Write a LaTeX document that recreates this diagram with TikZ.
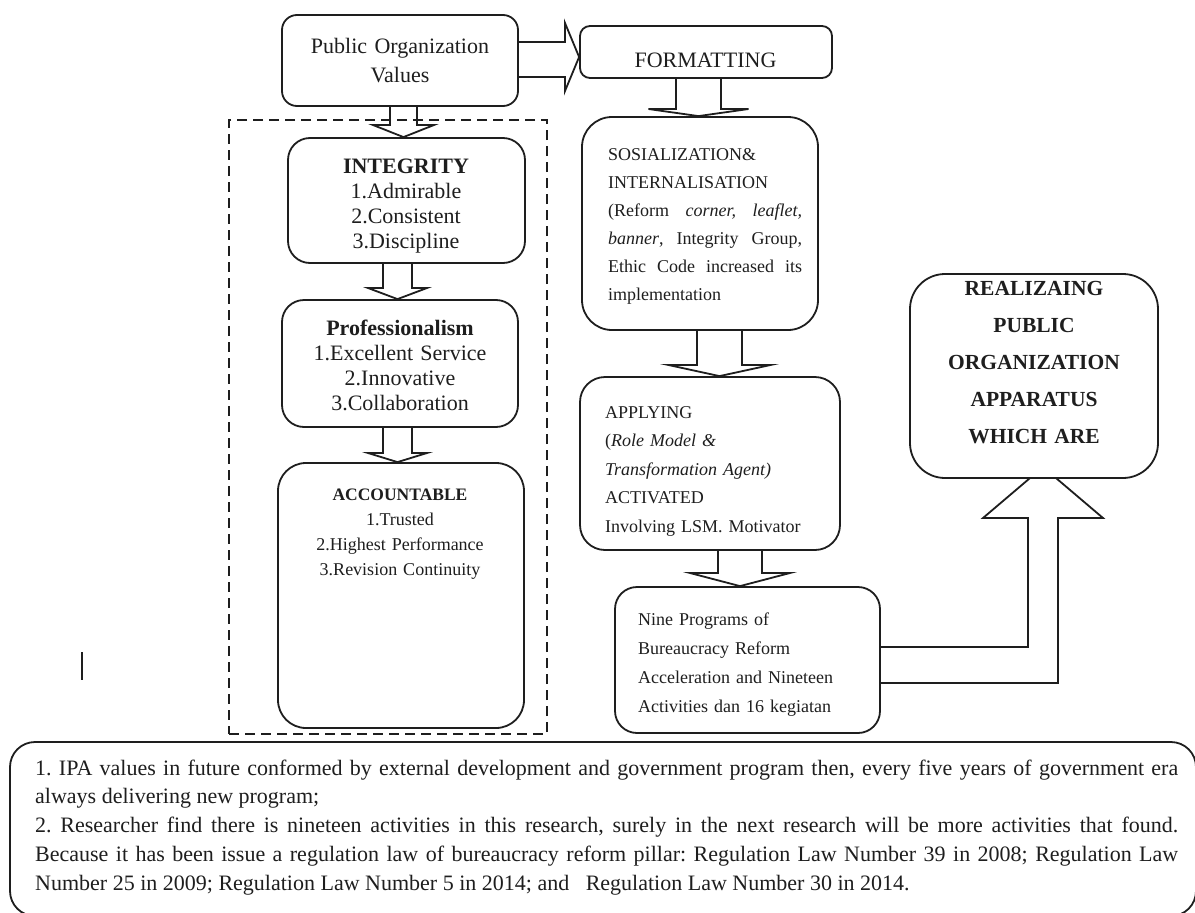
\documentclass[tikz,border=0pt]{standalone}
\usepackage{fontspec}
\setmainfont{Liberation Serif}
\usetikzlibrary{calc}
\frenchspacing
\definecolor{ink}{HTML}{1E1E1E}
\tikzset{
  box/.style={draw=ink, line width=1.8pt, fill=white, inner sep=0pt},
  blockarrow/.style={draw=ink, line width=1.8pt, line join=miter},
  txt/.style={inner sep=0pt, text=ink},
  groupframe/.style={draw=ink, line width=1.8pt, dash pattern=on 10pt off 6pt, inner sep=0pt},
}
\newcommand\fs[2]{\fontsize{#1}{#2}\selectfont}
% vertical block arrow: from node, to node, centre x, shaft half-width, head half-width, head base y
\newcommand\vblock[6]{%
  \draw[blockarrow] (#3-#4,0 |- #1.south) -- (#3-#4,#6) -- (#3-#5,#6) -- (#3,0 |- #2.north)
    -- (#3+#5,#6) -- (#3+#4,#6) -- (#3+#4,0 |- #1.south);}

\begin{document}
\begin{tikzpicture}[x=1pt,y=-1pt]
\useasboundingbox (0,0) rectangle (1195,913);

% dashed frame round the three value boxes
\node[groupframe, minimum width=318, minimum height=614] (group) at (388,427) {};

% boxes
\node[box, rounded corners=15pt, minimum width=236, minimum height=91] (val) at (400,60.5) {};
\node[box, rounded corners=10pt, minimum width=252, minimum height=52] (fmt) at (706,52) {};
\node[box, rounded corners=22pt, minimum width=237, minimum height=125] (integ) at (406.5,200.5) {};
\node[box, rounded corners=22pt, minimum width=236, minimum height=127] (prof) at (400,363.5) {};
\node[box, rounded corners=28pt, minimum width=246, minimum height=265] (acc) at (401,595.5) {};
\node[box, rounded corners=30pt, minimum width=236, minimum height=213] (sos) at (700,223.5) {};
\node[box, rounded corners=25pt, minimum width=260, minimum height=173] (app) at (710,463.5) {};
\node[box, rounded corners=22pt, minimum width=265, minimum height=146] (nine) at (747.5,660) {};
\node[box, rounded corners=25pt, minimum width=1186, minimum height=174] (note) at (603,829) {};

% block arrows
\draw[blockarrow] (val.east |- 0,42) -- (565,42) -- (565,23) -- (fmt.west |- 0,57)
  -- (565,91) -- (565,77) -- (val.east |- 0,77);
\vblock{val}{integ}{403.5}{13.5}{30.5}{125}
\vblock{integ}{prof}{397.5}{14.5}{29.5}{288}
\vblock{prof}{acc}{397.5}{14.5}{29.5}{453}
\vblock{fmt}{sos}{698.5}{22.5}{50}{109}
\vblock{sos}{app}{719.5}{22.5}{51}{365}
\vblock{app}{nine}{740}{22}{50}{573}
\draw[blockarrow] (nine.east |- 0,647) -- (1028,647) -- (1028,518) -- (983,518) -- (1043,467)
  -- (1103,518) -- (1058,518) -- (1058,683) -- (nine.east |- 0,683);

% goal box, drawn over the head of the big arrow
\node[box, rounded corners=35pt, minimum width=248, minimum height=204] (real) at (1034,376) {};

% texts
\node[txt, anchor=base, text width=236, align=center, font=\fs{22}{29}] (valtext) at (400,53)
  {Public Organization\\Values};
\node[txt, anchor=base, font=\fs{22}{26}] (fmttext) at (705.5,67) {FORMATTING};
\node[txt, anchor=base, text width=230, align=center, font=\fs{22}{25}] (integtext) at (406,173)
  {\textbf{INTEGRITY}\\1.Admirable\\2.Consistent\\3.Discipline};
\node[txt, anchor=base, text width=230, align=center, font=\fs{22}{25}] (proftext) at (400,335)
  {\textbf{Professionalism}\\1.Excellent Service\\2.Innovative\\3.Collaboration};
\node[txt, anchor=base, text width=230, align=center, font=\fs{18}{25}] (acctext) at (400,500)
  {{\fontsize{17.5}{25}\selectfont\bfseries ACCOUNTABLE}\\1.Trusted\\2.Highest Performance\\3.Revision Continuity};
\node[txt, anchor=base west, text width=194, align=justify, font=\fs{18}{28}] (sostext) at (608,160)
  {SOSIALIZATION\&\\INTERNALISATION\\(Reform \textit{corner, leaflet,}\linebreak
   \textit{banner}, Integrity Group,\linebreak Ethic Code increased its\linebreak implementation};
\node[txt, anchor=base west, text width=235, align=left, font=\fs{18}{28.5}] (apptext) at (605,418)
  {APPLYING\\(\textit{Role Model \&}\\\textit{Transformation Agent)}\\ACTIVATED\\Involving LSM. Motivator};
\node[txt, anchor=base west, text width=235, align=left, font=\fs{18}{29}] (ninetext) at (638,625)
  {Nine Programs of\\Bureaucracy Reform\\Acceleration and Nineteen\\Activities dan 16 kegiatan};
\node[txt, anchor=base, text width=240, align=center, font=\fs{21.5}{37}\bfseries] (realtext) at (1034,295)
  {REALIZAING\\PUBLIC\\ORGANIZATION\\APPARATUS\\WHICH ARE};
\node[txt, anchor=base west, text width=1143, align=justify, font=\fs{22}{28.8}] (notetext) at (35,775)
  {\hyphenpenalty=10000 1. IPA values in future conformed by external development and government program then, every five years of government era\linebreak
   always delivering new program;\\
   2. Researcher find there is nineteen activities in this research, surely in the next research will be more activities that found.\linebreak
   Because it has been issue a regulation law of bureaucracy reform pillar: Regulation Law Number 39 in 2008; Regulation Law\linebreak
   Number 25 in 2009; Regulation Law Number 5 in 2014; and\ \ \ Regulation Law Number 30 in 2014.};

% text cursor mark left of the frame
\coordinate (cursortop) at (82,652);
\coordinate (cursorbot) at (82,680);
\draw[ink, line width=1.5pt] (cursortop) -- (cursorbot);
\end{tikzpicture}
\end{document}
